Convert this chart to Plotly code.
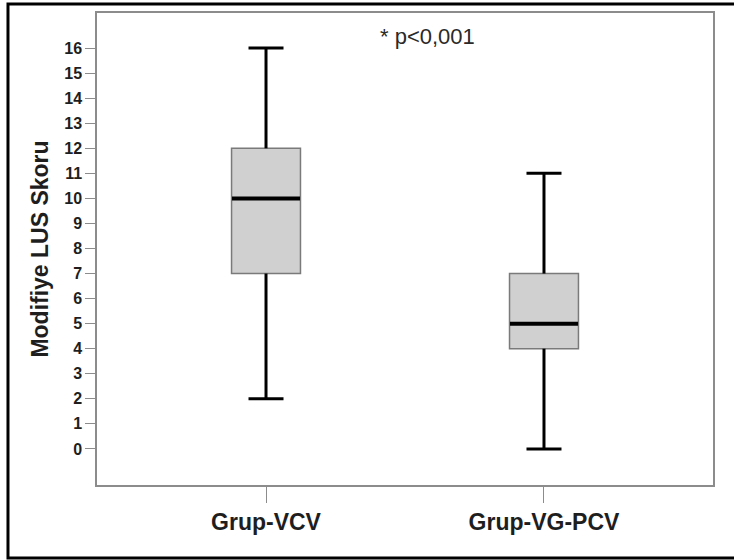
import plotly.graph_objects as go

# ---- data ----
groups = ["Grup-VCV", "Grup-VG-PCV"]
lower_whisker = [2, 0]
q1_values = [7, 4]
median_values = [10, 5]
q3_values = [12, 7]
upper_whisker = [16, 11]
y_tick_values = list(range(0, 17))
y_title = "Modifiye LUS Skoru"
p_note = "* p<0,001"

FONT = "Liberation Sans, Arial, sans-serif"
INK = "#1e1e1e"
LINE_EW = 1.4  # plotly's line-ew symbol length factor

fig = go.Figure()

# boxes (no whiskers) - thin gray outline
fig.add_trace(go.Box(
    x=groups, q1=q1_values, median=median_values, q3=q3_values,
    lowerfence=q1_values, upperfence=q3_values,
    width=0.248, whiskerwidth=0,
    fillcolor="#d0d0d0", line=dict(color="#7a7a7a", width=1.5),
    boxpoints=False, hoverinfo="skip", showlegend=False,
))

# whisker stems
wx, wy = [], []
for g, lo, a, b, hi in zip(groups, lower_whisker, q1_values, q3_values, upper_whisker):
    wx += [g, g, None, g, g, None]
    wy += [b, hi, None, lo, a, None]
fig.add_trace(go.Scatter(x=wx, y=wy, mode="lines",
                         line=dict(color="black", width=3),
                         hoverinfo="skip", showlegend=False))

# whisker caps
fig.add_trace(go.Scatter(
    x=groups + groups, y=upper_whisker + lower_whisker, mode="markers",
    marker=dict(symbol="line-ew", size=35 / LINE_EW, line=dict(color="black", width=3)),
    hoverinfo="skip", showlegend=False))

# medians
fig.add_trace(go.Scatter(
    x=groups, y=median_values, mode="markers",
    marker=dict(symbol="line-ew", size=68 / LINE_EW, line=dict(color="black", width=4)),
    hoverinfo="skip", showlegend=False))

fig.update_layout(
    width=734, height=560,
    margin=dict(l=97, r=21, t=13, b=75),
    paper_bgcolor="white", plot_bgcolor="white",
    font=dict(family=FONT, color=INK),
    xaxis=dict(
        type="category", range=[-0.608, 1.608],
        showline=True, linecolor="#8c8c8c", linewidth=1.5, mirror=True,
        ticks="outside", ticklen=16, tickcolor="#8c8c8c", tickwidth=1.2,
        tickfont=dict(size=23, family=FONT, color=INK, weight="bold"),
        showgrid=False, zeroline=False, fixedrange=True,
    ),
    yaxis=dict(
        range=[-1.44, 17.4],
        tickmode="array", tickvals=y_tick_values,
        ticktext=[str(v) for v in y_tick_values],
        showline=True, linecolor="#8c8c8c", linewidth=1.5, mirror=True,
        ticks="outside", ticklen=10, tickcolor="#8c8c8c", tickwidth=1.2,
        tickfont=dict(size=16, family=FONT, color=INK, weight="bold"),
        title=dict(text=y_title, standoff=9,
                   font=dict(size=23, family=FONT, color=INK, weight="bold")),
        showgrid=False, zeroline=False, fixedrange=True,
    ),
    annotations=[dict(
        text=p_note, xref="paper", yref="paper", x=0.536, y=0.981,
        showarrow=False, font=dict(size=22, family=FONT, color="#2a2a2a"),
    )],
    shapes=[dict(
        type="rect", xref="paper", yref="paper",
        x0=-0.1445, x1=1.06, y0=-0.1547, y1=1.019,
        line=dict(color="black", width=3), layer="above",
    )],
)

fig.write_html("out.html",
               config={"displayModeBar": False},
               post_script="document.body.style.margin='0';document.body.style.padding='0';")
